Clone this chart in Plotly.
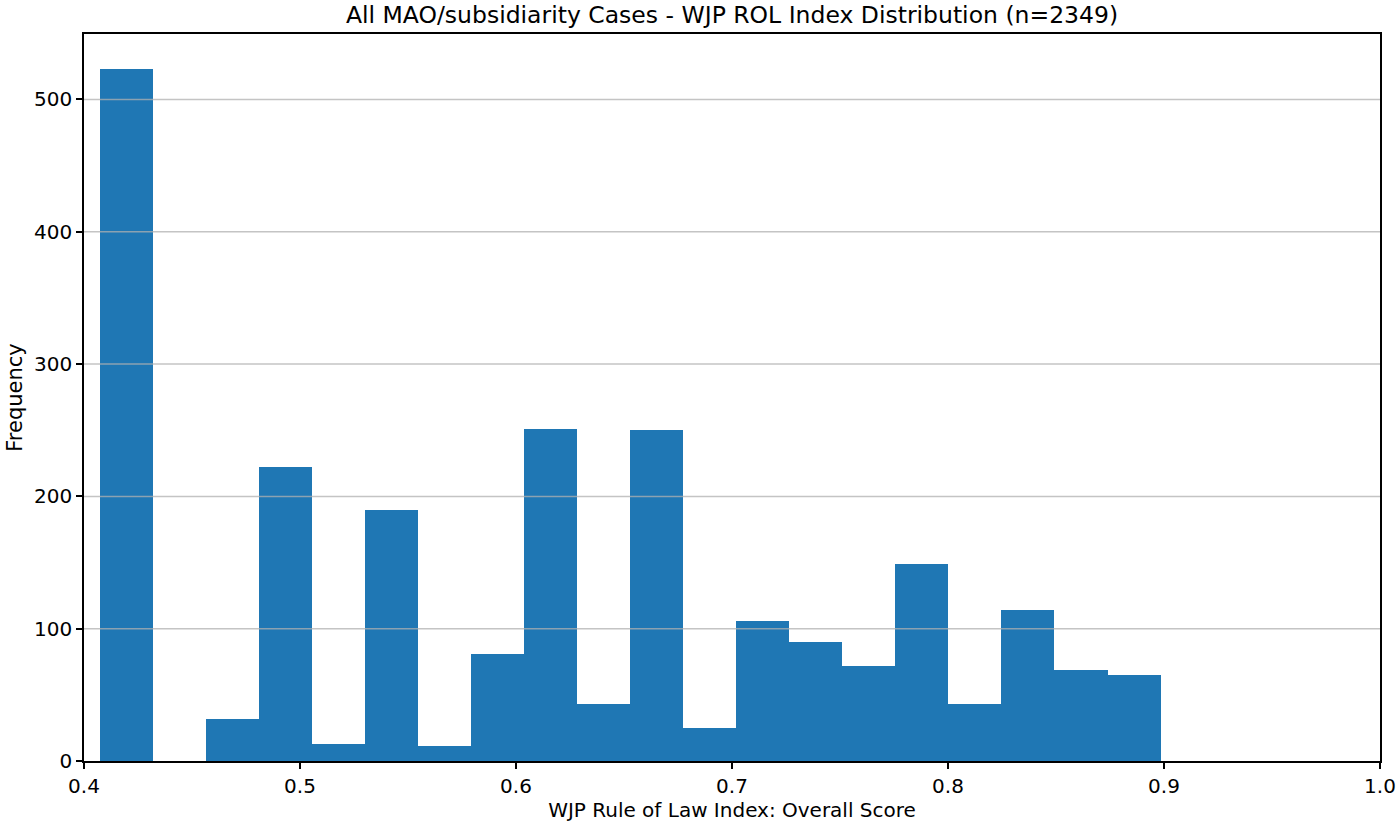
import plotly.graph_objects as go

# Histogram data (20 equal-width bins between min and max score)
bin_min = 0.4074
bin_max = 0.8984
counts = [523, 0, 32, 222, 13, 190, 11, 81, 251, 43,
          250, 25, 106, 90, 72, 149, 43, 114, 69, 65]
x_ticks = [0.4, 0.5, 0.6, 0.7, 0.8, 0.9, 1.0]
x_tick_labels = ["0.4", "0.5", "0.6", "0.7", "0.8", "0.9", "1.0"]
y_ticks = [0, 100, 200, 300, 400, 500]

n_bins = len(counts)
bw = (bin_max - bin_min) / n_bins
centers = [bin_min + bw * (i + 0.5) for i in range(n_bins)]

FONT = "DejaVu Sans"

fig = go.Figure()
fig.add_trace(go.Bar(
    x=centers, y=counts, width=[bw] * n_bins,
    marker=dict(color="#1f77b4", line=dict(width=0)),
    showlegend=False,
))

# grid lines drawn above bars (as in the reference)
for yt in y_ticks[1:]:
    fig.add_shape(type="line", xref="paper", x0=0, x1=1, yref="y", y0=yt, y1=yt,
                  line=dict(color="rgba(176,176,176,0.75)", width=1.5), layer="above")

fig.update_layout(
    width=1399, height=825,
    margin=dict(l=84, r=19, t=34, b=64),
    paper_bgcolor="white", plot_bgcolor="white",
    bargap=0,
    font=dict(family=FONT, size=20, color="black"),
    title=dict(text="All MAO/subsidiarity Cases - WJP ROL Index Distribution (n=2349)",
               x=(84 + (1399 - 19 - 84) / 2) / 1399, xanchor="center",
               y=1 - 15 / 825, yanchor="middle",
               font=dict(family=FONT, size=23.5, color="black")),
    xaxis=dict(range=[0.4, 1.0], tickvals=x_ticks, ticktext=x_tick_labels,
               showgrid=False, zeroline=False, automargin=False,
               showline=True, linecolor="black", linewidth=1.6, mirror=True,
               ticks="outside", ticklen=6, tickwidth=1.6, tickcolor="black",
               title=dict(text="WJP Rule of Law Index: Overall Score", standoff=6,
                          font=dict(size=20)),
               tickfont=dict(size=20)),
    yaxis=dict(range=[0, 549.5], tickvals=y_ticks,
               showgrid=False, zeroline=False, automargin=False,
               showline=True, linecolor="black", linewidth=1.6, mirror=True,
               ticks="outside", ticklen=6, tickwidth=1.6, tickcolor="black",
               title=dict(text="Frequency", standoff=6, font=dict(size=21)),
               tickfont=dict(size=20)),
)

fig.write_html("out.html")
